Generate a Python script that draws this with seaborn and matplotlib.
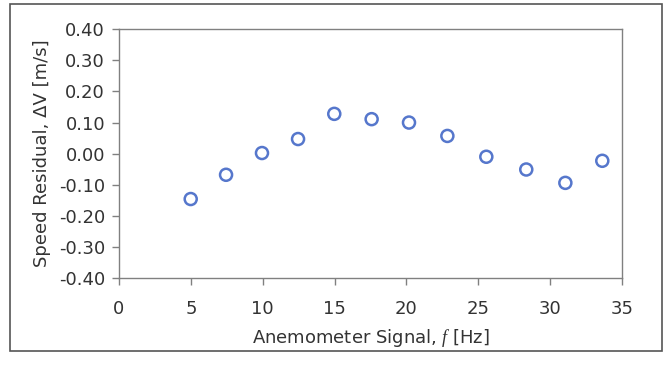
import matplotlib
matplotlib.use("Agg")
import matplotlib.pyplot as plt
import seaborn as sns
import pandas as pd
from matplotlib.patches import Rectangle

signal_hz = [4.99, 7.45, 9.95, 12.46, 14.98, 17.58, 20.18, 22.85, 25.56, 28.34, 31.06, 33.63]
residual = [-0.146, -0.068, 0.002, 0.047, 0.128, 0.111, 0.100, 0.057, -0.010, -0.051, -0.094, -0.023]
x_ticks = [0, 5, 10, 15, 20, 25, 30, 35]
y_ticks = [-0.40, -0.30, -0.20, -0.10, 0.00, 0.10, 0.20, 0.30, 0.40]

sns.set_style("white")
plt.rcParams['font.family'] = ['DejaVu Sans']
plt.rcParams['axes.unicode_minus'] = False
plt.rcParams['mathtext.fontset'] = 'custom'
plt.rcParams['mathtext.it'] = 'Liberation Serif:italic'

df = pd.DataFrame({"f": signal_hz, "dv": residual})

fig = plt.figure(figsize=(6.67, 3.65), dpi=100)
ax = fig.add_axes([0.1784, 0.2384, 0.9325 - 0.1784, 0.9197 - 0.2384])

sns.scatterplot(data=df, x="f", y="dv", ax=ax, marker="o", s=75,
                facecolors="none", edgecolor="#5677CC", linewidth=1.8, legend=False)

ax.set_xlim(0, 35)
ax.set_ylim(-0.40, 0.40)
ax.set_xticks(x_ticks)
ax.set_yticks(y_ticks)
ax.set_xticklabels([str(v) for v in x_ticks])
ax.set_yticklabels([f"{v:.2f}" for v in y_ticks])

for s in ax.spines.values():
    s.set_color("#808080")
    s.set_linewidth(1.0)
    s.set_visible(True)

ax.tick_params(axis="both", which="major", bottom=True, left=True,
               direction="out", length=5, width=1, color="#808080",
               labelsize=13, labelcolor="#333333", pad=5)
ax.tick_params(axis="x", pad=11)

ax.set_xlabel("Anemometer Signal, $f$ [Hz]", fontsize=13, color="#333333", labelpad=6)
ax.set_ylabel("Speed Residual, \u0394V [m/s]", fontsize=13, color="#333333", labelpad=6)

border = Rectangle((10 / 667, 1 - 351 / 365), (662 - 10) / 667, (351 - 4) / 365,
                   transform=fig.transFigure, fill=False, edgecolor="#555555",
                   linewidth=1.2)
fig.patches.append(border)

fig.savefig("out.png", dpi=100)
